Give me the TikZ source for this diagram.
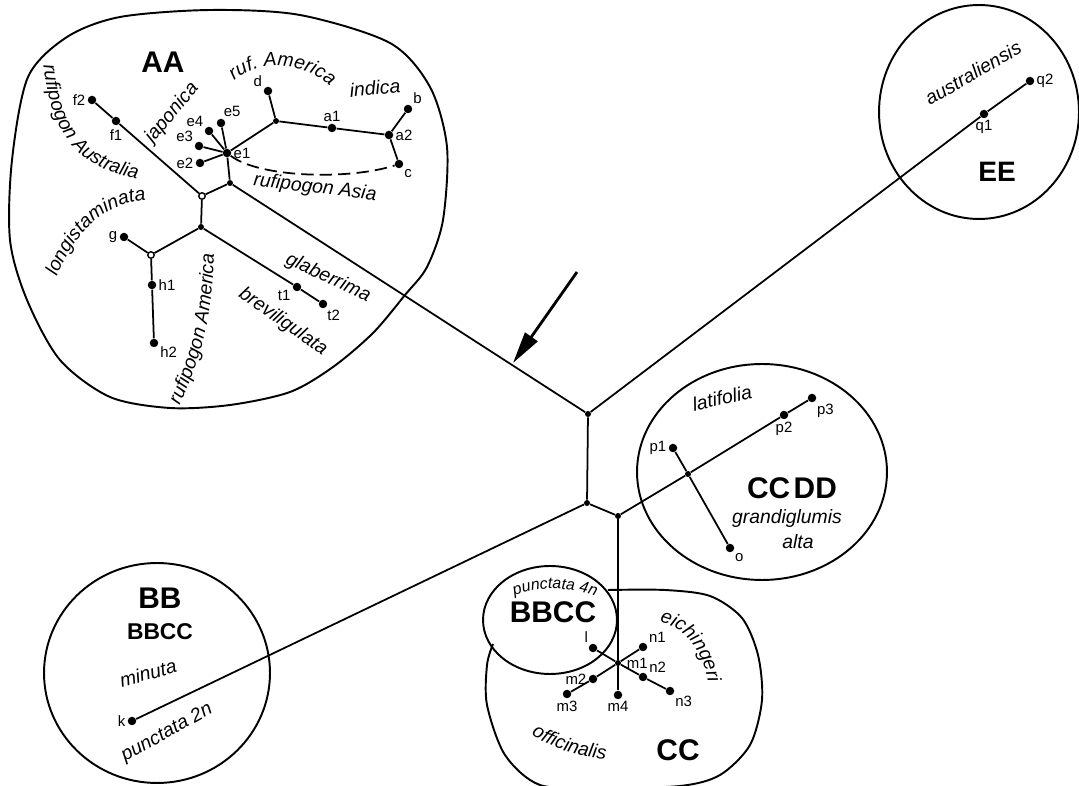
\documentclass[tikz,border=0pt]{standalone}
\usepackage{fontspec}
\setmainfont{Liberation Sans}
\usepackage{tikz}
\usetikzlibrary{arrows.meta, decorations.text}
\newcommand{\curvefont}{\fontsize{11}{12}\selectfont\itshape}
\tikzstyle{leaf}    = [circle, fill=black, inner sep=0pt, minimum size=0.17cm]
\tikzstyle{fork}    = [circle, fill=black, inner sep=0pt, minimum size=0.12cm]
\tikzstyle{hollow}  = [circle, draw=black, fill=white, line width=0.8pt, inner sep=0pt, minimum size=0.13cm]
\tikzstyle{species} = [font=\curvefont, inner sep=0pt]
\tikzstyle{genome}  = [font=\fontsize{17}{19}\selectfont\bfseries, inner sep=0pt]
\tikzstyle{branch}  = [line width=1pt]
\tikzstyle{zone}    = [line width=1.1pt]
\tikzstyle{arrow}   = [-{Triangle[length=0.64cm, width=0.3cm]}, line width=1.6pt]

\begin{document}
\begin{tikzpicture}[x=0.02cm, y=-0.02cm, every label/.style={font=\fontsize{8.5}{9}\selectfont, inner sep=1pt}]
    \useasboundingbox (0,0) rectangle (1079,786);

    % genome regions
    \draw[zone] plot[smooth cycle] coordinates {(12,160) (28,77) (67,37) (120,17) (210,10) (300,15) (390,43) (430,87) (447,147) (443,220) (427,267) (405,295) (373,333) (333,367) (290,392) (230,405) (170,408) (110,397) (60,360) (27,300) (10,240)};
    \draw[zone] (979,112) ellipse [x radius=2cm, y radius=2.14cm];
    \draw[zone] (762,472) ellipse [x radius=2.5cm, y radius=2.16cm];
    \draw[zone] (157,673) ellipse [x radius=2.26cm, y radius=2.2cm];
    \draw[zone] (550,620) ellipse [x radius=1.34cm, y radius=1.08cm];
    \draw[zone] plot[smooth] coordinates {(608,590) (665,590) (710,596) (742,618) (758,655) (762,700) (750,745) (720,775) (680,786) (600,788) (540,785) (505,755) (487,705) (487,665) (493,644)};

    % AA tree
    \node[leaf, label=left:f2] (f2) at (92,100) {};
    \node[leaf, label={[label distance=1pt]below:f1}] (f1) at (116,121) {};
    \node[hollow] (fr) at (202,196) {};
    \node[fork] (asia) at (230,183) {};
    \node[fork] (afr) at (201,227) {};
    \node[hollow] (gh) at (151,255) {};
    \node[leaf, label=left:g] (g) at (124,237) {};
    \node[leaf, label=right:h1] (h1) at (152,285) {};
    \node[leaf, label={-20:h2}] (h2) at (154,343) {};
    \node[leaf, label={195:t1}] (t1) at (297,287) {};
    \node[leaf, label={-60:t2}] (t2) at (323,304) {};
    \node[leaf, label=right:e1] (e1) at (227,153) {};
    \node[leaf, label=left:e2] (e2) at (200,163) {};
    \node[leaf, label={150:e3}] (e3) at (199,146) {};
    \node[leaf, label={145:e4}] (e4) at (209,131) {};
    \node[leaf, label={80:e5}] (e5) at (221,123) {};
    \node[fork] (ind) at (276,121) {};
    \node[leaf, label={150:d}] (d) at (268,91) {};
    \node[leaf, label=above:a1] (a1) at (332,128) {};
    \node[leaf, label=right:a2] (a2) at (389,135) {};
    \node[leaf, label={45:b}] (b) at (408,109) {};
    \node[leaf, label={-45:c}] (c) at (399,164) {};

    % central junctions and other groups
    \node[fork] (jtop) at (588,414) {};
    \node[fork] (jmid) at (587,503) {};
    \node[fork] (jc) at (618,516) {};
    \node[leaf, label=below:q1] (q1) at (984,114) {};
    \node[leaf, label=right:q2] (q2) at (1030,81) {};
    \node[leaf, label=left:k] (k) at (132,721) {};
    \node[fork] (pj) at (688,474) {};
    \node[leaf, label=left:p1] (p1) at (673,448) {};
    \node[leaf, label=below:p2] (p2) at (784,415) {};
    \node[leaf, label={-50:p3}] (p3) at (812,398) {};
    \node[leaf, label={-50:o}] (o) at (730,548) {};
    \node[fork, label={[label distance=2pt]right:m1}] (m1) at (618,663) {};
    \node[leaf, label={130:l}] (l) at (593,648) {};
    \node[leaf, label={30:n1}] (n1) at (643,647) {};
    \node[leaf, label={25:n2}] (n2) at (643,677) {};
    \node[leaf, label={-45:n3}] (n3) at (670,691) {};
    \node[leaf, label=left:m2] (m2) at (593,679) {};
    \node[leaf, label=below:m3] (m3) at (567,694) {};
    \node[leaf, label=below:m4] (m4) at (618,695) {};

    \draw[branch] (f2) -- (f1) -- (fr) -- (asia) -- (e1);
    \draw[branch] (fr) -- (afr) -- (gh) -- (g);
    \draw[branch] (gh) -- (h1) -- (h2);
    \draw[branch] (afr) -- (t1) -- (t2);
    \draw[branch] (e1) -- (e2) (e1) -- (e3) (e1) -- (e4) (e1) -- (e5);
    \draw[branch] (e1) -- (ind) -- (d) (ind) -- (a1) -- (a2) -- (b) (a2) -- (c);
    \draw[branch, dash pattern=on 7pt off 3.5pt] (e1) .. controls (260,178) and (350,180) .. (c);
    \draw[branch] (asia) -- (jtop) -- (q1) -- (q2);
    \draw[branch] (jtop) -- (jmid) -- (k);
    \draw[branch] (jmid) -- (jc) -- (pj) -- (p2) -- (p3);
    \draw[branch] (p1) -- (pj) -- (o);
    \draw[branch] (jc) -- (m1) -- (m4);
    \draw[branch] (l) -- (m1) -- (n2) -- (n3);
    \draw[branch] (m3) -- (m2) -- (m1) -- (n1);

    \coordinate (tail) at (577,272);
    \coordinate (tip) at (513,363);
    \draw[arrow] (tail) -- (tip);

    % genome names
    \node[genome] (aa) at (163,62) {AA};
    \node[genome, font=\fontsize{16}{18}\selectfont\bfseries] (ee) at (997,172) {EE};
    \node[genome] (ccdd) at (792,488) {CC\hspace{2pt}DD};
    \node[genome] (bb) at (160,598) {BB};
    \node[genome, font=\fontsize{13}{15}\selectfont\bfseries] (bbccb) at (160,632) {BBCC};
    \node[genome] (bbcc) at (553,612) {BBCC};
    \node[genome] (cc) at (678,750) {CC};

    % species names
    \node[species, rotate=5] (indica) at (375,88) {indica};
    \node[species, rotate=50] (japonica) at (172,113) {japonica};
    \node[species, rotate=-7] (rasia) at (315,188) {rufipogon Asia};
    \node[species, rotate=-25] (glab) at (328,278) {glaberrima};
    \node[species, rotate=-35] (brev) at (283,322) {breviligulata};
    \node[species, rotate=15] (minuta) at (148,673) {minuta};
    \node[species, rotate=29] (punct2) at (167,733) {punctata 2n};
    \node[species, rotate=12] (latif) at (722,398) {latifolia};
    \node[species] (grand) at (787,519) {grandiglumis};
    \node[species] (alta) at (798,542) {alta};
    \node[species, rotate=30] (austr) at (973,73) {australiensis};

    \path[decorate, decoration={text along path, text align=center, text={|\curvefont|rufipogon Australia}}] (42,52) .. controls (50,148) and (85,170) .. (150,182);
    \path[decorate, decoration={text along path, text align=center, text={|\curvefont|ruf. America}}] (230,84) .. controls (255,59) and (305,59) .. (334,90);
    \path[decorate, decoration={text along path, text align=center, text={|\curvefont|longistaminata}}] (52,290) .. controls (72,232) and (105,198) .. (160,200);
    \path[decorate, decoration={text along path, text align=center, text={|\curvefont|rufipogon America}}] (174,418) .. controls (200,362) and (214,320) .. (214,240);
    \path[decorate, decoration={text along path, text align=center, text={|\curvefont|eichingeri}}] (648,620) .. controls (682,622) and (705,648) .. (710,694);
    \path[decorate, decoration={text along path, text align=center, text={|\curvefont|officinalis}}] (514,722) .. controls (545,748) and (580,760) .. (627,760);
    \path[decorate, decoration={text along path, text align=center, text={|\fontsize{9}{10}\selectfont\itshape|punctata 4n}}] (504,600) .. controls (532,585) and (578,585) .. (606,601);
\end{tikzpicture}
\end{document}
